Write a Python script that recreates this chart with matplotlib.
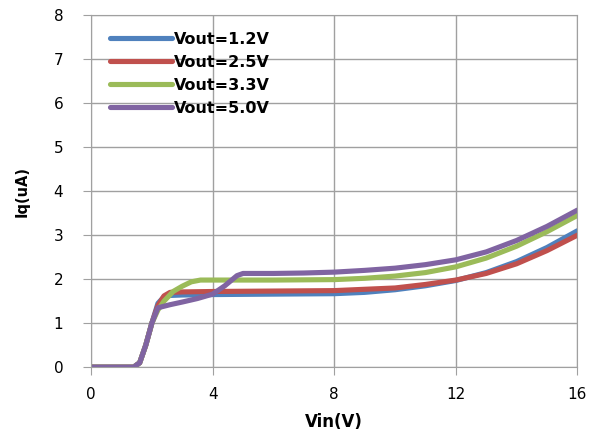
import matplotlib.pyplot as plt

plt.rcParams['font.family'] = ['DejaVu Sans']

labels = ['Vout=1.2V', 'Vout=2.5V', 'Vout=3.3V', 'Vout=5.0V']
colors = ['#4F81BD', '#C0504D', '#9BBB59', '#8064A2']

vin_12 = [0, 1.4, 1.6, 1.8, 2.0, 2.2, 2.4, 2.6, 3, 4, 6, 8, 9, 10, 11, 12, 13, 14, 15, 16]
iq_12 = [0, 0, 0.1, 0.5, 1.0, 1.45, 1.6, 1.63, 1.64, 1.65, 1.66, 1.67, 1.7, 1.76, 1.85, 1.97, 2.15, 2.4, 2.72, 3.1]

vin_25 = [0, 1.4, 1.6, 1.8, 2.0, 2.2, 2.4, 2.6, 3, 4, 6, 8, 9, 10, 11, 12, 13, 14, 15, 16]
iq_25 = [0, 0, 0.1, 0.5, 1.0, 1.4, 1.62, 1.7, 1.71, 1.72, 1.73, 1.74, 1.77, 1.8, 1.88, 1.98, 2.13, 2.35, 2.65, 3.0]

vin_33 = [0, 1.4, 1.6, 1.8, 2.0, 2.2, 2.4, 2.7, 3.0, 3.3, 3.6, 4, 6, 8, 9, 10, 11, 12, 13, 14, 15, 16]
iq_33 = [0, 0, 0.1, 0.5, 1.0, 1.3, 1.5, 1.72, 1.84, 1.94, 1.98, 1.98, 1.98, 1.99, 2.02, 2.07, 2.15, 2.28, 2.48, 2.75, 3.08, 3.45]

vin_50 = [0, 1.4, 1.6, 1.8, 2.0, 2.2, 2.6, 3, 3.5, 4, 4.4, 4.8, 5, 6, 7, 8, 9, 10, 11, 12, 13, 14, 15, 16]
iq_50 = [0, 0, 0.1, 0.5, 1.0, 1.35, 1.42, 1.48, 1.56, 1.66, 1.85, 2.08, 2.13, 2.13, 2.14, 2.16, 2.2, 2.25, 2.33, 2.44, 2.62, 2.88, 3.2, 3.57]

series = [(vin_12, iq_12), (vin_25, iq_25), (vin_33, iq_33), (vin_50, iq_50)]

fig = plt.figure(figsize=(5.99, 4.34), dpi=100)
ax = fig.add_axes([0.152, 0.154, 0.812, 0.811])

for (x, y), c, lab in zip(series, colors, labels):
    ax.plot(x, y, color=c, lw=3.7, label=lab, solid_joinstyle='round', solid_capstyle='round')

ax.set_xlim(0, 16)
ax.set_ylim(0, 8)
ax.set_xticks([0, 4, 8, 12, 16])
ax.set_yticks(range(0, 9))
ax.grid(True, color='#A0A0A0', lw=1)
ax.set_axisbelow(True)
for s in ax.spines.values():
    s.set_color('#A0A0A0')
ax.tick_params(colors='#A0A0A0', labelcolor='black', labelsize=11, length=6, direction='out')
ax.tick_params(axis='x', pad=8)
ax.tick_params(axis='y', pad=14)

ax.set_xlabel('Vin(V)', fontsize=12, fontweight='bold', va='center')
ax.set_ylabel('Iq(uA)', fontsize=10.5, fontweight='bold', va='center')
ax.xaxis.set_label_coords(0.5, -0.156)
ax.yaxis.set_label_coords(-0.142, 0.5)

ax.legend(loc='upper left', bbox_to_anchor=(0.039, 0.952), frameon=False,
          borderaxespad=0, borderpad=0, handlelength=3.9, handletextpad=0.1,
          labelspacing=0.5, prop={'weight': 'bold', 'size': 11.5})

fig.savefig('out.png', dpi=100, facecolor='white')
